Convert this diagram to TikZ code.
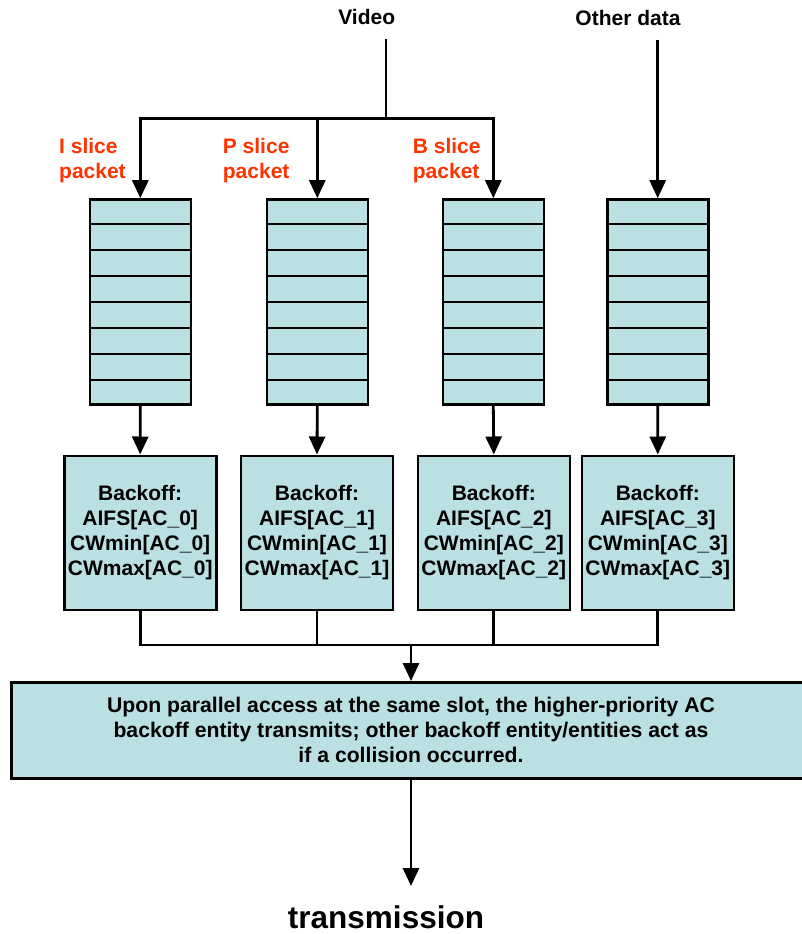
\documentclass[tikz,border=0pt]{standalone}
\usepackage{fontspec}
\setmainfont{Liberation Sans}
\usetikzlibrary{arrows.meta,calc}
\definecolor{boxfill}{HTML}{BAE0E3}
\definecolor{slicered}{HTML}{FF3300}
\tikzset{
  wire/.style={line width=2.8pt},
  arr/.style={wire,-{Triangle[length=18pt,width=16pt]}},
  queue/.style={draw,line width=2.6pt,fill=boxfill,minimum width=101pt,minimum height=205pt,inner sep=0pt},
  divider/.style={line width=2.2pt},
  backoff/.style={draw,line width=2.6pt,fill=boxfill,minimum width=152pt,minimum height=154pt,inner sep=0pt,
    align=center,font=\bfseries\fontsize{21}{25}\selectfont},
  slicelbl/.style={text=slicered,align=left,inner sep=0pt,font=\bfseries\fontsize{21}{25.5}\selectfont},
  toplbl/.style={inner sep=0pt,font=\bfseries\fontsize{21}{25}\selectfont},
}
\begin{document}
\begin{tikzpicture}[x=1pt,y=-1pt]
\clip (0,0) rectangle (802,934);
\fill[white] (0,0) rectangle (802,934);

% sources
\node[toplbl,anchor=base] (video) at (366.7,25) {Video};
\node[toplbl,anchor=base] (other) at (628,25.5) {Other data};
\coordinate (vtop) at (386,39);
\coordinate (vsplit) at (386,118.7);
\coordinate (otop) at (657.7,40);

% slice labels
\node[slicelbl,anchor=west] (lI) at (59,160.5) {I slice\\packet};
\node[slicelbl,anchor=west] (lP) at (222.7,160.5) {P slice\\packet};
\node[slicelbl,anchor=west] (lB) at (412.7,160.5) {B slice\\packet};

% queues
\foreach \q/\x in {q1/140.3,q2/317.3,q3/493.3,q4/657.7}{
  \node[queue] (\q) at (\x,302) {};
  \foreach \k in {1,...,7}{
    \draw[divider] ($(\q.north west)!\k/8!(\q.south west)$) -- ($(\q.north east)!\k/8!(\q.south east)$);
  }
}

% backoff entities
\node[backoff] (b1) at (140.2,532.8) {Backoff:\\AIFS[AC\_0]\\CWmin[AC\_0]\\CWmax[AC\_0]};
\node[backoff] (b2) at (317,532.8) {Backoff:\\AIFS[AC\_1]\\CWmin[AC\_1]\\CWmax[AC\_1]};
\node[backoff] (b3) at (493.8,532.8) {Backoff:\\AIFS[AC\_2]\\CWmin[AC\_2]\\CWmax[AC\_2]};
\node[backoff] (b4) at (657.8,532.8) {Backoff:\\AIFS[AC\_3]\\CWmin[AC\_3]\\CWmax[AC\_3]};

% arbitration
\node[draw,line width=2.6pt,fill=boxfill,minimum width=800pt,minimum height=96pt,inner sep=0pt,
  anchor=north west] (arb) at (10.2,681) {};
\node[align=center,inner sep=0pt,font=\bfseries\fontsize{21.2}{25.4}\selectfont] (arbtxt) at (411,730)
  {Upon parallel access at the same slot, the higher-priority AC\\
   backoff entity transmits; other backoff entity/entities act as\\
   if a collision occurred.};
\coordinate (merge) at (411,645);
\coordinate (tx) at (411,886);
\node[inner sep=0pt,anchor=base,font=\bfseries\fontsize{31.5}{36}\selectfont] (trans) at (386,928) {transmission};

% connectors
\draw[wire] (vtop) -- (vsplit);
\draw[arr] (vsplit) -| (q1.north);
\draw[arr] (vsplit) -| (q3.north);
\draw[arr] (vsplit -| q2.north) -- (q2.north);
\draw[arr] (otop) -- (q4.north);
\foreach \i in {1,2,3,4}{
  \draw[arr] (q\i.south) -- (b\i.north);
}
\draw[wire] (b1.south) |- (merge);
\draw[wire] (b4.south) |- (merge);
\draw[wire] (b2.south) -- (b2.south |- merge);
\draw[wire] (b3.south) -- (b3.south |- merge);
\draw[arr] (merge) -- (merge |- arb.north);
\draw[arr] (merge |- arb.south) -- (tx);
\end{tikzpicture}
\end{document}
